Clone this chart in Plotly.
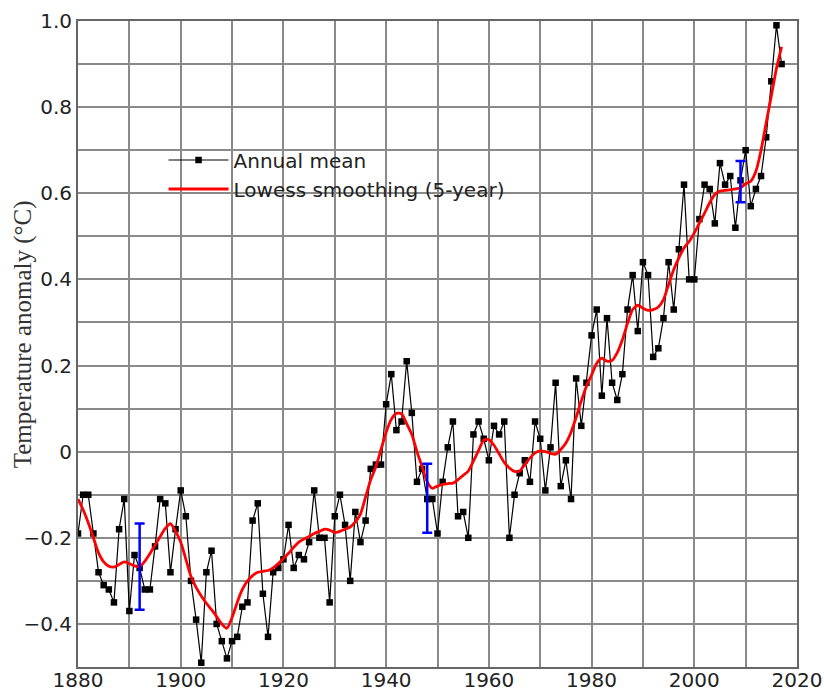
import plotly.graph_objects as go

# GISTEMP-style global land-ocean temperature anomaly, 1880-2017
years = list(range(1880, 2018))

annual_mean = [
    -0.19, -0.10, -0.10, -0.19, -0.28, -0.31, -0.32, -0.35, -0.18, -0.11,  # 1880s
    -0.37, -0.24, -0.27, -0.32, -0.32, -0.22, -0.11, -0.12, -0.28, -0.18,  # 1890s
    -0.09, -0.15, -0.30, -0.39, -0.49, -0.28, -0.23, -0.40, -0.44, -0.48,  # 1900s
    -0.44, -0.43, -0.36, -0.35, -0.16, -0.12, -0.33, -0.43, -0.28, -0.27,  # 1910s
    -0.25, -0.17, -0.27, -0.24, -0.25, -0.21, -0.09, -0.20, -0.20, -0.35,  # 1920s
    -0.15, -0.10, -0.17, -0.30, -0.14, -0.21, -0.16, -0.04, -0.03, -0.03,  # 1930s
    0.11, 0.18, 0.05, 0.07, 0.21, 0.09, -0.07, -0.04, -0.11, -0.11,        # 1940s
    -0.19, -0.07, 0.01, 0.07, -0.15, -0.14, -0.20, 0.04, 0.07, 0.03,       # 1950s
    -0.02, 0.06, 0.04, 0.07, -0.20, -0.10, -0.05, -0.02, -0.07, 0.07,      # 1960s
    0.03, -0.09, 0.01, 0.16, -0.08, -0.02, -0.11, 0.17, 0.06, 0.16,        # 1970s
    0.27, 0.33, 0.13, 0.31, 0.16, 0.12, 0.18, 0.33, 0.41, 0.28,            # 1980s
    0.44, 0.41, 0.22, 0.24, 0.31, 0.44, 0.33, 0.47, 0.62, 0.40,            # 1990s
    0.40, 0.54, 0.62, 0.61, 0.53, 0.67, 0.62, 0.64, 0.52, 0.63,            # 2000s
    0.70, 0.57, 0.61, 0.64, 0.73, 0.86, 0.99, 0.90,                        # 2010s
]

lowess_5yr = [
    -0.110, -0.135, -0.165, -0.200, -0.235, -0.256, -0.266, -0.268, -0.262, -0.256,
    -0.260, -0.265, -0.267, -0.255, -0.237, -0.217, -0.197, -0.178, -0.167, -0.185,
    -0.210, -0.250, -0.290, -0.315, -0.335, -0.352, -0.367, -0.383, -0.400, -0.410,
    -0.385, -0.350, -0.320, -0.300, -0.288, -0.280, -0.278, -0.276, -0.270, -0.260,
    -0.248, -0.236, -0.222, -0.210, -0.203, -0.197, -0.190, -0.185, -0.180, -0.182,
    -0.188, -0.185, -0.180, -0.175, -0.163, -0.145, -0.105, -0.065, -0.035, 0.005,
    0.045, 0.075, 0.089, 0.088, 0.065, 0.040, 0.000, -0.035, -0.070, -0.085,
    -0.080, -0.076, -0.074, -0.073, -0.065, -0.055, -0.045, -0.022, 0.003, 0.027,
    0.028, 0.015, -0.005, -0.025, -0.038, -0.046, -0.045, -0.030, -0.015, -0.003,
    0.002, 0.000, -0.004, -0.006, 0.005, 0.020, 0.045, 0.080, 0.118, 0.152,
    0.178, 0.205, 0.217, 0.210, 0.212, 0.230, 0.260, 0.298, 0.330, 0.340,
    0.333, 0.328, 0.330, 0.336, 0.353, 0.388, 0.423, 0.450, 0.473, 0.488,
    0.508, 0.531, 0.554, 0.578, 0.597, 0.605, 0.607, 0.608, 0.610, 0.613,
    0.622, 0.628, 0.651, 0.700, 0.764, 0.826, 0.890, 0.940,
]

# Uncertainty estimates shown at three epochs
unc_years = [1892, 1948, 2009]
unc_center = [-0.267, -0.108, 0.627]
unc_half = [0.100, 0.080, 0.048]

y_tickvals = [-0.4, -0.2, 0, 0.2, 0.4, 0.6, 0.8, 1.0]
y_ticktext = ["\u22120.4", "\u22120.2", "0", "0.2", "0.4", "0.6", "0.8", "1.0"]
x_tickvals = [1880, 1900, 1920, 1940, 1960, 1980, 2000, 2020]

grid_color = "#8a8a8a"

fig = go.Figure()

fig.add_trace(go.Scatter(
    x=years, y=annual_mean, name="Annual mean",
    mode="lines+markers",
    line=dict(color="black", width=1.2),
    marker=dict(symbol="square", size=6.5, color="black"),
))

fig.add_trace(go.Scatter(
    x=years, y=lowess_5yr, name="Lowess smoothing (5-year)",
    mode="lines",
    line=dict(color="#ff0000", width=2.8, shape="spline", smoothing=0.6),
))

fig.add_trace(go.Scatter(
    x=unc_years, y=unc_center, mode="markers", showlegend=False,
    marker=dict(size=1, color="rgba(0,0,255,0)"),
    error_y=dict(type="data", array=unc_half, visible=True,
                 color="#0000ff", thickness=2.5, width=5),
))

fig.update_layout(
    width=824, height=693,
    margin=dict(l=78, r=27, t=21, b=26),
    paper_bgcolor="white", plot_bgcolor="white",
    font=dict(family="DejaVu Sans", size=20, color="#222222"),
    showlegend=True,
    legend=dict(
        x=0.119, y=0.815, xanchor="left", yanchor="top",
        bgcolor="rgba(0,0,0,0)", borderwidth=0,
        font=dict(family="DejaVu Sans", size=20, color="#222222"),
        itemwidth=60, tracegroupgap=0,
    ),
    annotations=[dict(
        text="Temperature anomaly (\u00b0C)",
        xref="paper", yref="paper", x=-0.0765, y=0.515,
        xanchor="center", yanchor="middle", textangle=-90,
        showarrow=False,
        font=dict(family="Liberation Serif", size=25, color="#333333"),
    )],
)

fig.update_xaxes(
    range=[1880, 2020], tickvals=x_tickvals, ticks="", automargin=False,
    ticklabelstandoff=-6,
    showgrid=True, gridcolor=grid_color, gridwidth=2,
    minor=dict(dtick=10, tick0=1880, showgrid=True, gridcolor=grid_color, gridwidth=2),
    showline=True, linecolor="#666666", linewidth=2, mirror=True,
    zeroline=False,
)
fig.update_yaxes(
    range=[-0.5, 1.0], tickvals=y_tickvals, ticktext=y_ticktext, ticks="", automargin=False,
    showgrid=True, gridcolor=grid_color, gridwidth=2,
    minor=dict(dtick=0.1, tick0=0, showgrid=True, gridcolor=grid_color, gridwidth=2),
    showline=True, linecolor="#666666", linewidth=2, mirror=True,
    zeroline=False,
)

fig.write_html("out.html")
